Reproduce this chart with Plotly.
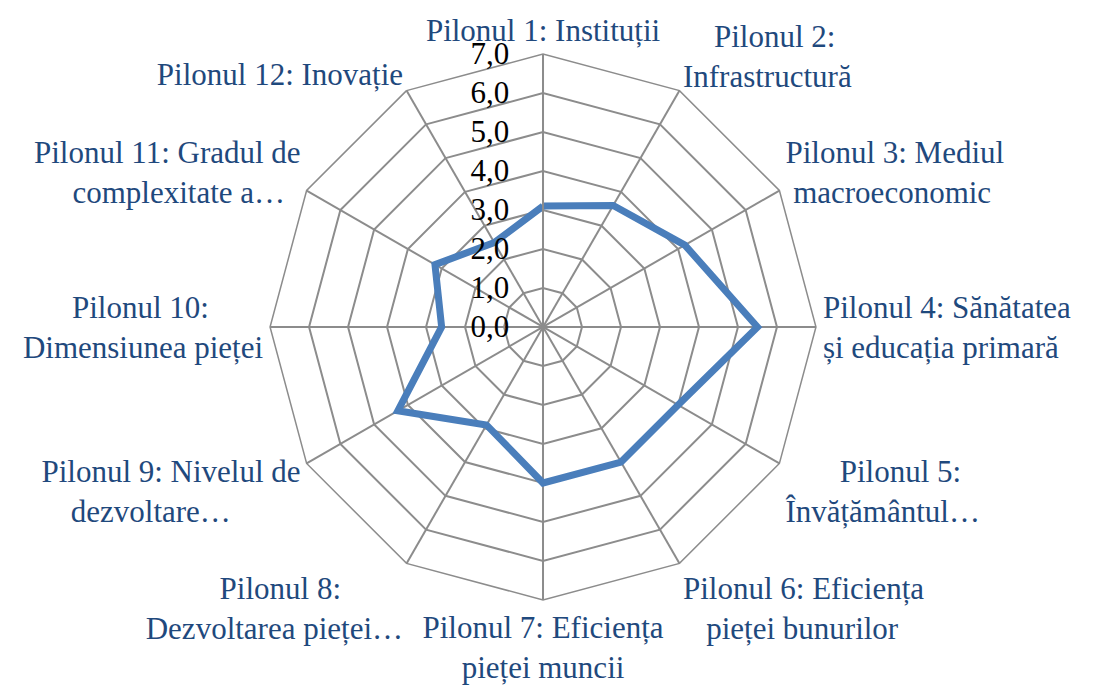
import plotly.graph_objects as go

NB = "\u00a0"  # non-breaking space, used to centre the two-line labels

# pillar labels (as shown on the chart, with line breaks)
pillars = [
    "Pilonul 1: Instituții",
    NB * 4 + "Pilonul 2:<br>Infrastructură",
    "Pilonul 3: Mediul<br>" + NB + "macroeconomic",
    "Pilonul 4: Sănătatea<br>și educația primară",
    NB * 7 + "Pilonul 5:<br>Învățământul…",
    "Pilonul 6: Eficiența<br>" + NB * 3 + "pieței bunurilor",
    "Pilonul 7: Eficiența<br>pieței muncii",
    "Pilonul 8:" + NB * 8 + "<br>Dezvoltarea pieței…",
    "Pilonul 9: Nivelul de<br>dezvoltare…" + NB * 9,
    "Pilonul 10:" + NB * 7 + "<br>Dimensiunea pieței",
    "Pilonul 11: Gradul de<br>complexitate a…" + NB * 2,
    "Pilonul 12: Inovație",
]
scores = [3.1, 3.6, 4.2, 5.5, 4.0, 4.0, 4.0, 2.9, 4.3, 2.6, 3.2, 2.5]
radial_ticks = [0, 1, 2, 3, 4, 5, 6, 7]

fig = go.Figure()
fig.add_trace(
    go.Scatterpolar(
        r=scores + scores[:1],
        theta=pillars + pillars[:1],
        mode="lines",
        line=dict(color="#4A7EBB", width=7),
        hoverinfo="skip",
    )
)

grid_col = "#8C8C8C"
fig.update_layout(
    width=1096,
    height=686,
    margin=dict(l=0, r=0, t=0, b=0),
    paper_bgcolor="white",
    showlegend=False,
    separators=", ",
    font=dict(family="Liberation Serif", size=31, color="black"),
    polar=dict(
        domain=dict(x=[0.2391, 0.7372], y=[0.137, 0.933]),
        bgcolor="white",
        gridshape="linear",
        radialaxis=dict(
            range=[0, 7],
            tickvals=radial_ticks,
            tickformat=".1f",
            angle=90,
            tickangle=90,
            side="counterclockwise",
            showline=True,
            linecolor=grid_col,
            linewidth=2,
            gridcolor=grid_col,
            gridwidth=1.5,
            ticks="outside",
            ticklen=22,
            tickcolor="rgba(0,0,0,0)",
            tickfont=dict(family="Liberation Serif", size=31, color="black"),
        ),
        angularaxis=dict(
            rotation=90,
            direction="clockwise",
            gridcolor=grid_col,
            gridwidth=1.5,
            linecolor=grid_col,
            linewidth=1.5,
            ticks="",
            tickfont=dict(family="Liberation Serif", size=31, color="#1F497D"),
        ),
    ),
)

fig.write_html("out.html")
